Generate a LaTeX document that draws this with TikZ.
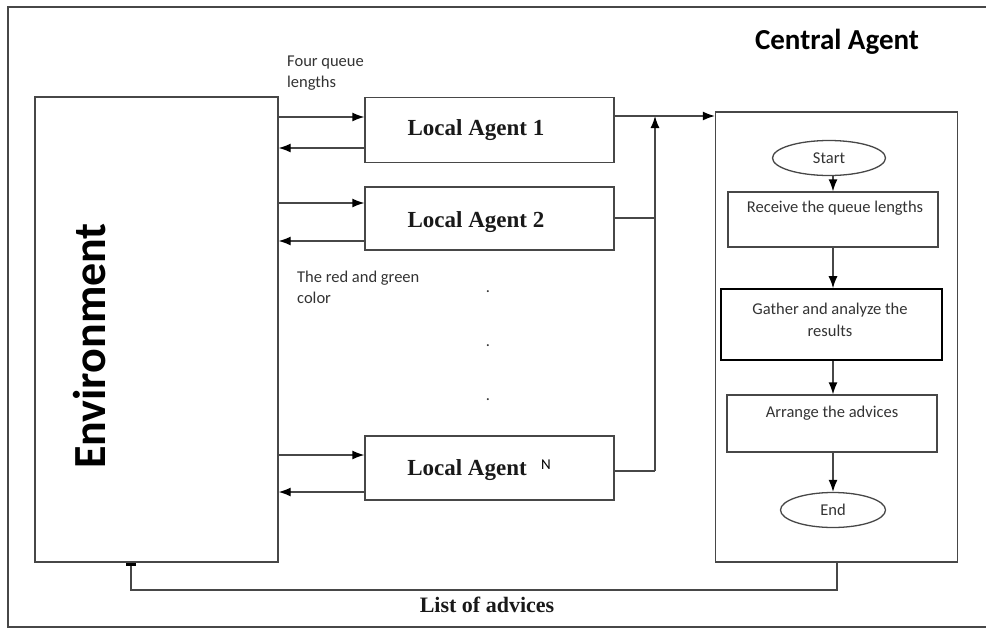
\documentclass[tikz,border=0pt]{standalone}
\usepackage{fontspec}
\setmainfont{Liberation Serif}
\newfontfamily\calf{Carlito}
\usetikzlibrary{arrows.meta,shapes.geometric}
\begin{document}
\begin{tikzpicture}[x=1pt,y=-1pt,
  ln/.style={draw=black!72,line width=1.3pt},
  box/.style={ln,rectangle,inner sep=0pt},
  oval/.style={ln,ellipse,inner sep=0pt},
  arr/.style={ln,-{Latex[length=12pt,width=9pt,fill=black,color=black]}},
  agent/.style={font=\bfseries\fontsize{23}{23}\selectfont,inner sep=0pt,text=black!90},
  small/.style={font=\calf\fontsize{16.5}{16.5}\selectfont,inner sep=0pt,text=black!80},
  note/.style={font=\calf\fontsize{16.5}{21}\selectfont,inner sep=0pt,align=left,anchor=north west,text=black!80}]
\useasboundingbox (0,0) rectangle (986,630);
% outer frame (right side runs off the picture)
\draw[ln,line width=1.6pt] (986,7) -- (8,7) -- (8,627) -- (986,627);

% environment
\node[box,minimum width=243pt,minimum height=465pt] (env) at (156.5,329.5) {};
\node[rotate=90,font=\calf\bfseries\fontsize{46}{46}\selectfont,inner sep=0pt] (envt) at (90,346) {Environment};

% local agents
\node[box,minimum width=249pt,minimum height=65pt] (la1) at (489.5,130) {};
\node[agent] (la1t) at (476,130) {Local Agent 1};
\node[box,minimum width=249pt,minimum height=63pt] (la2) at (489.5,218.5) {};
\node[agent] (la2t) at (476,222) {Local Agent 2};
\node[box,minimum width=249pt,minimum height=64pt] (laN) at (489.5,468) {};
\node[agent] (laNt) at (467,470) {Local Agent};
\node[font=\calf\fontsize{15}{15}\selectfont,inner sep=0pt] (laNn) at (546,465) {N};

% arrows environment <-> agents
\draw[arr] (env.east |- 0,117) -- (la1.west |- 0,117);
\draw[arr] (la1.west |- 0,148) -- (env.east |- 0,148);
\draw[arr] (env.east |- 0,203) -- (la2.west |- 0,203);
\draw[arr] (la2.west |- 0,241) -- (env.east |- 0,241);
\draw[arr] (env.east |- 0,455) -- (laN.west |- 0,455);
\draw[arr] (laN.west |- 0,492) -- (env.east |- 0,492);

% labels
\node[note] (fq) at (287,56) {Four queue\\lengths};
\node[note] (rg) at (297,271) {The red and green\\color};
\node[small] (d1) at (488,292) {.};
\node[small] (d2) at (488,346) {.};
\node[small] (d3) at (488,400) {.};

% central agent
\node[font=\calf\bfseries\fontsize{29}{29}\selectfont,inner sep=0pt] (cat) at (837,42) {Central Agent};
\node[box,minimum width=242pt,minimum height=450pt] (ca) at (836.5,337) {};
\node[oval,minimum width=113pt,minimum height=35pt] (start) at (829,158) {};
\node[small] (startt) at (829,158) {Start};
\node[box,minimum width=210pt,minimum height=55pt] (rcv) at (833,219.5) {};
\node[small] (rcvt) at (835,208) {Receive the queue lengths};
\node[box,draw=black,line width=1.6pt,minimum width=221pt,minimum height=71pt] (gat) at (831.5,324.5) {};
\node[small,align=center,font=\calf\fontsize{16.5}{22}\selectfont] (gatt) at (830,320) {Gather and analyze the\\results};
\node[box,minimum width=210pt,minimum height=57pt] (arg) at (832,423.5) {};
\node[small] (argt) at (832,413) {Arrange the advices};
\node[oval,minimum width=105pt,minimum height=35pt] (end) at (833,510) {};
\node[small] (endt) at (833,510) {End};

\draw[arr] (start.south -| 833,0) -- (rcv.north -| 833,0);
\draw[arr] (rcv.south -| 833,0) -- (gat.north -| 833,0);
\draw[arr] (gat.south -| 833,0) -- (arg.north -| 833,0);
\draw[arr] (arg.south -| 833,0) -- (end.north -| 833,0);

% bus to central agent
\coordinate (bt) at (655,116);
\coordinate (b2) at (655,218);
\coordinate (bN) at (655,471);
\draw[ln] (laN.east |- bN) -- (bN);
\draw[arr] (bN) -- (bt);
\draw[ln] (la2.east |- b2) -- (b2);
\draw[arr] (la1.east |- bt) -- (ca.west |- bt);

% list of advices loop
\coordinate (lb) at (131,590);
\draw[ln,-{Rectangle[length=3pt,width=10pt,fill=black,color=black]}] (ca.south -| 837,0) -- (837,590) -- (lb) -- (lb |- env.south);
\node[font=\bfseries\fontsize{22}{22}\selectfont,inner sep=0pt,text=black!90] (loa) at (487,605) {List of advices};
\end{tikzpicture}
\end{document}
